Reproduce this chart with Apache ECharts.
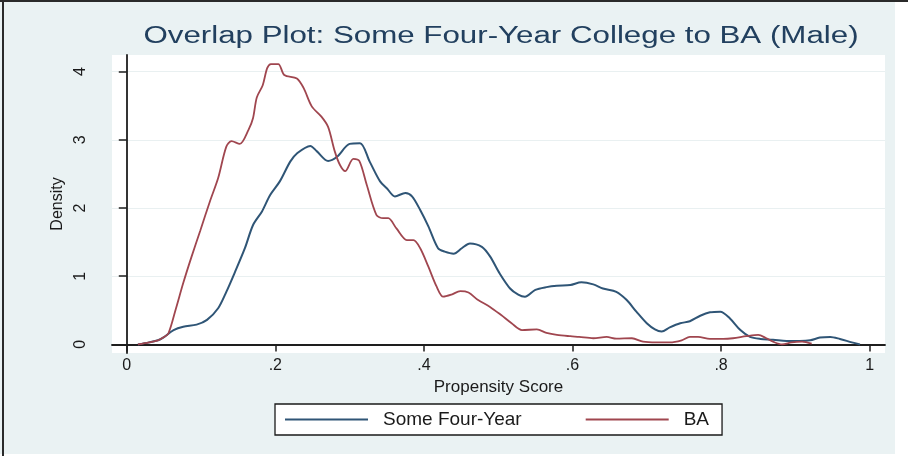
<!DOCTYPE html>
<html>
<head>
<meta charset="utf-8">
<script src="https://cdn.jsdelivr.net/npm/echarts@6/dist/echarts.min.js"></script>
<style>
  html, body { margin: 0; padding: 0; background: #ffffff; }
  #chart { width: 908px; height: 460px; }
</style>
</head>
<body>
<div id="chart"></div>
<script>
// Kernel density of the propensity score, by group
const someFourYearScore = [
  0.015, 0.030, 0.042, 0.049, 0.063, 0.076, 0.094, 0.108, 0.123, 0.134,
  0.146, 0.159, 0.170, 0.182, 0.193, 0.206, 0.220, 0.229, 0.247, 0.256,
  0.271, 0.283, 0.300, 0.314, 0.327, 0.341, 0.350, 0.361, 0.375, 0.384,
  0.395, 0.406, 0.419, 0.428, 0.440, 0.451, 0.462, 0.478, 0.489, 0.502,
  0.516, 0.527, 0.536, 0.550, 0.565, 0.579, 0.597, 0.612, 0.628, 0.641,
  0.659, 0.673, 0.686, 0.700, 0.711, 0.720, 0.731, 0.745, 0.758, 0.772,
  0.785, 0.799, 0.812, 0.826, 0.839, 0.853, 0.870, 0.888, 0.906, 0.920,
  0.933, 0.947, 0.960, 0.976, 0.987
];
const someFourYearDensity = [
  0.00, 0.03, 0.06, 0.10, 0.21, 0.26, 0.29, 0.36, 0.53, 0.77,
  1.07, 1.41, 1.75, 1.95, 2.19, 2.39, 2.68, 2.80, 2.91, 2.83,
  2.69, 2.75, 2.94, 2.95, 2.68, 2.39, 2.29, 2.17, 2.22, 2.17,
  1.97, 1.73, 1.41, 1.36, 1.33, 1.41, 1.48, 1.43, 1.29, 1.04,
  0.82, 0.73, 0.70, 0.80, 0.84, 0.86, 0.87, 0.91, 0.88, 0.82,
  0.77, 0.65, 0.48, 0.31, 0.22, 0.19, 0.25, 0.31, 0.34, 0.42,
  0.47, 0.48, 0.38, 0.21, 0.11, 0.08, 0.07, 0.05, 0.05, 0.06,
  0.10, 0.11, 0.08, 0.03, 0.00
];
const baScore = [
  0.015, 0.030, 0.042, 0.049, 0.056, 0.066, 0.076, 0.087, 0.099, 0.112,
  0.123, 0.134, 0.141, 0.152, 0.164, 0.170, 0.175, 0.183, 0.189, 0.194,
  0.204, 0.212, 0.229, 0.238, 0.249, 0.262, 0.271, 0.280, 0.287, 0.294,
  0.305, 0.313, 0.323, 0.336, 0.345, 0.352, 0.363, 0.377, 0.386, 0.395,
  0.406, 0.417, 0.426, 0.437, 0.449, 0.460, 0.473, 0.489, 0.504, 0.518,
  0.532, 0.552, 0.565, 0.579, 0.597, 0.609, 0.628, 0.646, 0.659, 0.680,
  0.695, 0.713, 0.731, 0.747, 0.758, 0.769, 0.785, 0.803, 0.816, 0.834,
  0.850, 0.861, 0.870, 0.882, 0.895, 0.909, 0.922
];
const baDensity = [
  0.00, 0.03, 0.06, 0.10, 0.16, 0.52, 0.90, 1.28, 1.67, 2.10,
  2.44, 2.90, 2.98, 2.94, 3.15, 3.32, 3.62, 3.80, 4.05, 4.11,
  4.11, 3.95, 3.90, 3.76, 3.49, 3.34, 3.19, 2.83, 2.63, 2.54,
  2.72, 2.69, 2.34, 1.90, 1.85, 1.85, 1.70, 1.53, 1.53, 1.41,
  1.14, 0.85, 0.70, 0.73, 0.78, 0.76, 0.65, 0.55, 0.43, 0.31,
  0.21, 0.22, 0.17, 0.14, 0.12, 0.11, 0.09, 0.11, 0.085, 0.09,
  0.04, 0.03, 0.03, 0.06, 0.11, 0.11, 0.08, 0.08, 0.09, 0.12,
  0.14, 0.09, 0.04, 0.00, 0.03, 0.04, 0.01
];
const xTickValues = [0, 0.2, 0.4, 0.6, 0.8, 1];
const xTickLabels = ['0', '.2', '.4', '.6', '.8', '1'];
const yTickValues = [0, 1, 2, 3, 4];
const seriesNames = ['Some Four-Year', 'BA'];
const titleText = 'Overlap Plot: Some Four-Year College to BA (Male)';

const pair = (xs, ys) => xs.map((x, i) => [x, ys[i]]);

const FONT = '"Liberation Sans", Arial, sans-serif';
const NAVY = '#2f5576';
const MAROON = '#a0464f';
const AXIS = '#1e1e1e';

const chart = echarts.init(document.getElementById('chart'), null, { renderer: 'canvas' });

chart.setOption({
  backgroundColor: '#eaf2f3',
  animation: false,
  textStyle: { fontFamily: FONT },
  graphic: [
    // white page margin right and below the graph region, plus the frame edges
    { type: 'rect', silent: true, shape: { x: 895, y: 0, width: 13, height: 460 }, style: { fill: '#ffffff' } },
    { type: 'rect', silent: true, shape: { x: 0, y: 454, width: 908, height: 6 }, style: { fill: '#ffffff' } },
    { type: 'rect', silent: true, shape: { x: 0, y: 0, width: 908, height: 2 }, style: { fill: '#2a2a2a' } },
    { type: 'rect', silent: true, shape: { x: 2, y: 0, width: 2, height: 456 }, style: { fill: '#2a2a2a' } },
    {
      type: 'text', silent: true, x: 501, y: 37, scaleX: 1.36,
      style: {
        text: titleText, x: 0, y: 0, align: 'center', verticalAlign: 'middle',
        font: '23px ' + FONT, fill: '#22405f'
      }
    }
  ],
  grid: {
    left: 112, right: 23, top: 55, bottom: 107,
    show: true, backgroundColor: '#ffffff', borderWidth: 0
  },
  legend: {
    left: 275, top: 404,
    padding: [6, 13, 6, 10],
    backgroundColor: '#ffffff',
    borderColor: '#1a1a1a', borderWidth: 1.3,
    icon: 'rect',
    itemWidth: 83, itemHeight: 2, itemGap: 64,
    textStyle: { fontSize: 19, lineHeight: 16, color: '#1a1a1a', fontFamily: FONT, padding: [0, 0, 0, 10] },
    data: seriesNames
  },
  xAxis: {
    type: 'value',
    min: -0.0199, max: 1.0207,
    name: 'Propensity Score', nameLocation: 'middle', nameGap: 22,
    nameTextStyle: { fontSize: 17, color: '#1a1a1a' },
    axisLine: { show: true, lineStyle: { color: AXIS, width: 1.8 } },
    axisTick: { show: true, length: 7, customValues: xTickValues, lineStyle: { color: AXIS, width: 1.5 } },
    axisLabel: {
      customValues: xTickValues, margin: 5, fontSize: 16, color: '#1a1a1a',
      formatter: v => xTickLabels[xTickValues.findIndex(t => Math.abs(t - v) < 1e-9)] ?? ''
    },
    splitLine: { show: false }
  },
  yAxis: {
    type: 'value',
    min: -0.126, max: 4.243,
    name: 'Density', nameLocation: 'middle', nameGap: 40, nameRotate: 90,
    nameTextStyle: { fontSize: 16, color: '#1a1a1a' },
    axisLine: { show: true, lineStyle: { color: AXIS, width: 1.8 } },
    axisTick: { show: true, length: 8, customValues: yTickValues, lineStyle: { color: AXIS, width: 1.5 } },
    axisLabel: { customValues: yTickValues, rotate: 90, margin: 23, fontSize: 16, color: '#1a1a1a' },
    splitLine: { show: true, lineStyle: { color: '#e9f0f1', width: 1.2 } }
  },
  series: [
    {
      name: seriesNames[0], type: 'line', data: pair(someFourYearScore, someFourYearDensity),
      symbol: 'none', smooth: 0.3, lineStyle: { color: NAVY, width: 2 }, itemStyle: { color: NAVY }
    },
    {
      name: seriesNames[1], type: 'line', data: pair(baScore, baDensity),
      symbol: 'none', smooth: 0.3, lineStyle: { color: MAROON, width: 1.8 }, itemStyle: { color: MAROON }
    }
  ]
});
</script>
</body>
</html>
